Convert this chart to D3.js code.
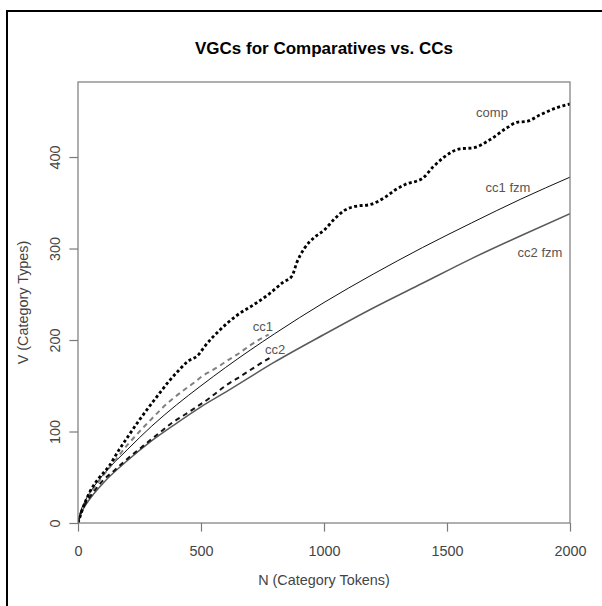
<!DOCTYPE html>
<html>
<head>
<meta charset="utf-8">
<script src="https://cdn.jsdelivr.net/npm/d3@7"></script>
<style>
  html, body { margin: 0; padding: 0; background: #fff; }
  svg { display: block; font-family: "Liberation Sans", Arial, sans-serif; }
</style>
</head>
<body>
<svg id="chart" width="602" height="606"></svg>
<script>
// ---- data ----
const xTicks = [0, 500, 1000, 1500, 2000];
const yTicks = [0, 100, 200, 300, 400];

const compN = [0, 25, 50, 85, 126, 167, 207, 248, 289, 329, 370, 410, 443, 490, 515, 577, 646, 711, 780, 833, 870, 890, 920, 960, 1000, 1045, 1085, 1126, 1187, 1248, 1289, 1330, 1402, 1443, 1484, 1553, 1606, 1675, 1744, 1785, 1825, 1878, 1947, 2000];
const compV = [0, 20, 35, 49, 62, 80, 96, 112, 127, 141, 155, 167, 176, 184, 193, 211, 227, 238, 251, 263, 270, 285, 300, 312, 320, 333, 342, 346, 348, 356, 364, 370, 377, 389, 399, 409, 410, 419, 432, 438, 439, 446, 454, 458];

const cc1N = [0, 10, 25, 50, 75, 100, 150, 200, 250, 300, 329, 360, 386, 439, 470, 508, 540, 577, 610, 646, 699, 740, 775];
const cc1V = [0, 10, 19, 32, 42, 51, 68, 85, 100, 114, 122, 130, 136, 147, 153, 161, 166, 172, 178, 184, 194, 201, 206];

const cc2N = [0, 10, 25, 50, 100, 150, 200, 264, 300, 333, 380, 420, 455, 483, 537, 570, 605, 659, 711, 752, 790];
const cc2V = [0, 10, 19, 29, 46, 58, 70, 84, 92, 99, 109, 116, 122, 127, 137, 144, 151, 160, 169, 176, 182];

const fzmN = [0, 10, 25, 50, 100, 200, 300, 400, 500, 600, 800, 1000, 1200, 1400, 1600, 1800, 2000];
const cc1FzmV = [0, 12, 22, 34, 52, 80, 106, 129, 150, 170, 207, 241, 272, 301, 328, 354, 378];
const cc2FzmV = [0, 9, 17, 27, 43, 68, 90, 109, 127, 143, 176, 206, 235, 262, 289, 314, 338];

const labelText = ["comp", "cc1 fzm", "cc2 fzm", "cc1", "cc2"];
const labelN = [1683, 1748, 1878, 752, 801];
const labelV = [449, 367, 296, 215, 190];

// ---- layout ----
const svg = d3.select("#chart");
const pL = 78, pR = 570, pT = 82, pB = 523;

const x = d3.scaleLinear().domain([0, 2000]).range([pL, pR]);
const y = d3.scaleLinear().domain([0, 482]).range([pB, pT]);

svg.append("rect").attr("width", 602).attr("height", 606).attr("fill", "#fff");

// outer frame (extends past right/bottom of the picture)
svg.append("rect")
  .attr("x", 7).attr("y", 11).attr("width", 700).attr("height", 700)
  .attr("fill", "none").attr("stroke", "#000").attr("stroke-width", 2);

// title
svg.append("text")
  .attr("x", (pL + pR) / 2).attr("y", 54)
  .attr("text-anchor", "middle")
  .attr("font-size", 17).attr("font-weight", "bold").attr("fill", "#000")
  .text("VGCs for Comparatives vs. CCs");

// x axis
const gx = svg.append("g").attr("transform", `translate(0,${pB})`)
  .call(d3.axisBottom(x).tickValues(xTicks).tickSize(8.6).tickFormat(d3.format("d")));
gx.select(".domain").remove();
gx.selectAll(".tick line").attr("stroke", "#7a7a7a").attr("stroke-width", 1.2);
gx.selectAll(".tick text").attr("y", 33).attr("dy", 0)
  .attr("font-size", 14.4).attr("fill", "#444").attr("font-family", "Liberation Sans, Arial, sans-serif");

// y axis
const gy = svg.append("g").attr("transform", `translate(${pL},0)`)
  .call(d3.axisLeft(y).tickValues(yTicks).tickSize(8.6).tickFormat(d3.format("d")));
gy.select(".domain").remove();
gy.selectAll(".tick line").attr("stroke", "#7a7a7a").attr("stroke-width", 1.2);
gy.selectAll(".tick text")
  .attr("transform", "rotate(-90)")
  .attr("x", 0).attr("y", -18).attr("dy", 0)
  .attr("text-anchor", "middle")
  .attr("font-size", 14.4).attr("fill", "#444").attr("font-family", "Liberation Sans, Arial, sans-serif");

// axis titles
svg.append("text")
  .attr("x", (pL + pR) / 2).attr("y", 585)
  .attr("text-anchor", "middle").attr("font-size", 14.4).attr("fill", "#444")
  .text("N (Category Tokens)");
svg.append("text")
  .attr("transform", `translate(28,${(pT + pB) / 2}) rotate(-90)`)
  .attr("text-anchor", "middle").attr("font-size", 14.4).attr("fill", "#444")
  .text("V (Category Types)");

// clip
svg.append("clipPath").attr("id", "clip")
  .append("rect").attr("x", pL).attr("y", pT).attr("width", pR - pL).attr("height", pB - pT);

const plot = svg.append("g").attr("clip-path", "url(#clip)");

function line(ns, vs, curve) {
  return d3.line().x(d => x(d[0])).y(d => y(d[1])).curve(curve)(ns.map((n, i) => [n, vs[i]]));
}

// fzm curves
plot.append("path").attr("d", line(fzmN, cc2FzmV, d3.curveMonotoneX))
  .attr("fill", "none").attr("stroke", "#5a5a5a").attr("stroke-width", 1.5);
plot.append("path").attr("d", line(fzmN, cc1FzmV, d3.curveMonotoneX))
  .attr("fill", "none").attr("stroke", "#111").attr("stroke-width", 1);

// observed cc curves
plot.append("path").attr("d", line(cc1N, cc1V, d3.curveMonotoneX))
  .attr("fill", "none").attr("stroke", "#808080").attr("stroke-width", 2)
  .attr("stroke-dasharray", "5,4");
plot.append("path").attr("d", line(cc2N, cc2V, d3.curveMonotoneX))
  .attr("fill", "none").attr("stroke", "#111").attr("stroke-width", 2)
  .attr("stroke-dasharray", "5,4");

// comp dotted
plot.append("path").attr("d", line(compN, compV, d3.curveMonotoneX))
  .attr("fill", "none").attr("stroke", "#000").attr("stroke-width", 2.8)
  .attr("stroke-dasharray", "3,2.5");

// box
svg.append("rect")
  .attr("x", pL).attr("y", pT).attr("width", pR - pL).attr("height", pB - pT)
  .attr("fill", "none").attr("stroke", "#7a7a7a").attr("stroke-width", 1.2);

// curve labels
svg.selectAll("text.lbl").data(labelText).enter().append("text")
  .attr("class", "lbl")
  .attr("x", (d, i) => x(labelN[i]))
  .attr("y", (d, i) => y(labelV[i]))
  .attr("dy", "0.35em")
  .attr("text-anchor", "middle")
  .attr("font-size", 13).attr("fill", "#555")
  .text(d => d);
</script>
</body>
</html>
